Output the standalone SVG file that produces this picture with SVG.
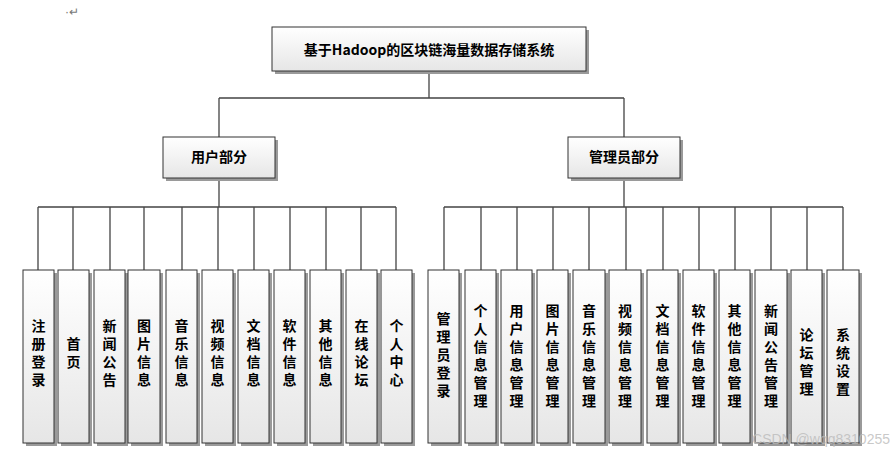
<svg xmlns="http://www.w3.org/2000/svg" width="893" height="453" viewBox="0 0 893 453">
<defs>
<linearGradient id="g" x1="0" y1="0" x2="0" y2="1"><stop offset="0" stop-color="#ffffff"/><stop offset="1" stop-color="#e6e6e6"/></linearGradient>
<style>
.b{fill:url(#g);stroke:#333;stroke-width:1}
.s{fill:#9a9a9a}
.c{stroke:#444;stroke-width:1.3;fill:none}
.t{font-family:"Noto Sans CJK SC","Liberation Serif",serif;font-weight:bold;font-size:14px;fill:#000;text-anchor:middle}
</style>
</defs>
<rect width="893" height="453" fill="#fff"/>
<text x="65" y="16" font-family="Liberation Sans,sans-serif" font-size="12" fill="#777">·↵</text>
<g id="connectors" class="c">
<path d="M429 71V98M219 98H624M219 98V137M624 98V137"/>
<path d="M219 178V207M38 207H396M38 207V270M73 207V270M110 207V270M144 207V270M182 207V270M218 207V270M254 207V270M290 207V270M326 207V270M361 207V270M396 207V270"/>
<path d="M624 178V207M444 207H843M444 207V270M481 207V270M517 207V270M553 207V270M589 207V270M626 207V270M663 207V270M699 207V270M735 207V270M771 207V270M807 207V270M843 207V270"/>
</g>
<g id="root"><rect class="s" x="275" y="30" width="314" height="44"/><rect class="b" x="272" y="27" width="314" height="44"/><text class="t" x="429" y="55" font-size="16">基于Hadoop的区块链海量数据存储系统</text></g>
<g id="user"><rect class="s" x="166" y="140" width="112" height="41"/><rect class="b" x="163" y="137" width="112" height="41"/><text class="t" x="219" y="162">用户部分</text></g>
<g id="admin"><rect class="s" x="571" y="140" width="112" height="41"/><rect class="b" x="568" y="137" width="112" height="41"/><text class="t" x="624" y="162">管理员部分</text></g>
<g id="u1"><rect class="s" x="26" y="273" width="31" height="173"/><rect class="b" x="23" y="270" width="31" height="173"/><text class="t" x="38.5"><tspan x="38.5" y="331">注</tspan><tspan x="38.5" y="349">册</tspan><tspan x="38.5" y="367">登</tspan><tspan x="38.5" y="385">录</tspan></text></g>
<g id="u2"><rect class="s" x="61" y="273" width="31" height="173"/><rect class="b" x="58" y="270" width="31" height="173"/><text class="t"><tspan x="73.5" y="349">首</tspan><tspan x="73.5" y="367">页</tspan></text></g>
<g id="u3"><rect class="s" x="97" y="273" width="31" height="173"/><rect class="b" x="94" y="270" width="31" height="173"/><text class="t"><tspan x="109.5" y="331">新</tspan><tspan x="109.5" y="349">闻</tspan><tspan x="109.5" y="367">公</tspan><tspan x="109.5" y="385">告</tspan></text></g>
<g id="u4"><rect class="s" x="131" y="273" width="32" height="173"/><rect class="b" x="128" y="270" width="32" height="173"/><text class="t"><tspan x="144" y="331">图</tspan><tspan x="144" y="349">片</tspan><tspan x="144" y="367">信</tspan><tspan x="144" y="385">息</tspan></text></g>
<g id="u5"><rect class="s" x="169" y="273" width="31" height="173"/><rect class="b" x="166" y="270" width="31" height="173"/><text class="t"><tspan x="181.5" y="331">音</tspan><tspan x="181.5" y="349">乐</tspan><tspan x="181.5" y="367">信</tspan><tspan x="181.5" y="385">息</tspan></text></g>
<g id="u6"><rect class="s" x="205" y="273" width="31" height="173"/><rect class="b" x="202" y="270" width="31" height="173"/><text class="t"><tspan x="217.5" y="331">视</tspan><tspan x="217.5" y="349">频</tspan><tspan x="217.5" y="367">信</tspan><tspan x="217.5" y="385">息</tspan></text></g>
<g id="u7"><rect class="s" x="241" y="273" width="31" height="173"/><rect class="b" x="238" y="270" width="31" height="173"/><text class="t"><tspan x="253.5" y="331">文</tspan><tspan x="253.5" y="349">档</tspan><tspan x="253.5" y="367">信</tspan><tspan x="253.5" y="385">息</tspan></text></g>
<g id="u8"><rect class="s" x="277" y="273" width="31" height="173"/><rect class="b" x="274" y="270" width="31" height="173"/><text class="t"><tspan x="289.5" y="331">软</tspan><tspan x="289.5" y="349">件</tspan><tspan x="289.5" y="367">信</tspan><tspan x="289.5" y="385">息</tspan></text></g>
<g id="u9"><rect class="s" x="313" y="273" width="31" height="173"/><rect class="b" x="310" y="270" width="31" height="173"/><text class="t"><tspan x="325.5" y="331">其</tspan><tspan x="325.5" y="349">他</tspan><tspan x="325.5" y="367">信</tspan><tspan x="325.5" y="385">息</tspan></text></g>
<g id="u10"><rect class="s" x="349" y="273" width="31" height="173"/><rect class="b" x="346" y="270" width="31" height="173"/><text class="t"><tspan x="361.5" y="331">在</tspan><tspan x="361.5" y="349">线</tspan><tspan x="361.5" y="367">论</tspan><tspan x="361.5" y="385">坛</tspan></text></g>
<g id="u11"><rect class="s" x="384" y="273" width="31" height="173"/><rect class="b" x="381" y="270" width="31" height="173"/><text class="t"><tspan x="396.5" y="331">个</tspan><tspan x="396.5" y="349">人</tspan><tspan x="396.5" y="367">中</tspan><tspan x="396.5" y="385">心</tspan></text></g>
<g id="a1"><rect class="s" x="431" y="273" width="31" height="173"/><rect class="b" x="428" y="270" width="31" height="173"/><text class="t"><tspan x="443.5" y="324">管</tspan><tspan x="443.5" y="342">理</tspan><tspan x="443.5" y="360">员</tspan><tspan x="443.5" y="378">登</tspan><tspan x="443.5" y="396">录</tspan></text></g>
<g id="a2"><rect class="s" x="468" y="273" width="31" height="173"/><rect class="b" x="465" y="270" width="31" height="173"/><text class="t"><tspan x="480.5" y="316">个</tspan><tspan x="480.5" y="334">人</tspan><tspan x="480.5" y="352">信</tspan><tspan x="480.5" y="370">息</tspan><tspan x="480.5" y="388">管</tspan><tspan x="480.5" y="406">理</tspan></text></g>
<g id="a3"><rect class="s" x="504" y="273" width="31" height="173"/><rect class="b" x="501" y="270" width="31" height="173"/><text class="t"><tspan x="516.5" y="316">用</tspan><tspan x="516.5" y="334">户</tspan><tspan x="516.5" y="352">信</tspan><tspan x="516.5" y="370">息</tspan><tspan x="516.5" y="388">管</tspan><tspan x="516.5" y="406">理</tspan></text></g>
<g id="a4"><rect class="s" x="540" y="273" width="31" height="173"/><rect class="b" x="537" y="270" width="31" height="173"/><text class="t"><tspan x="552.5" y="316">图</tspan><tspan x="552.5" y="334">片</tspan><tspan x="552.5" y="352">信</tspan><tspan x="552.5" y="370">息</tspan><tspan x="552.5" y="388">管</tspan><tspan x="552.5" y="406">理</tspan></text></g>
<g id="a5"><rect class="s" x="576" y="273" width="32" height="173"/><rect class="b" x="573" y="270" width="32" height="173"/><text class="t"><tspan x="589" y="316">音</tspan><tspan x="589" y="334">乐</tspan><tspan x="589" y="352">信</tspan><tspan x="589" y="370">息</tspan><tspan x="589" y="388">管</tspan><tspan x="589" y="406">理</tspan></text></g>
<g id="a6"><rect class="s" x="612" y="273" width="32" height="173"/><rect class="b" x="609" y="270" width="32" height="173"/><text class="t"><tspan x="625" y="316">视</tspan><tspan x="625" y="334">频</tspan><tspan x="625" y="352">信</tspan><tspan x="625" y="370">息</tspan><tspan x="625" y="388">管</tspan><tspan x="625" y="406">理</tspan></text></g>
<g id="a7"><rect class="s" x="650" y="273" width="31" height="173"/><rect class="b" x="647" y="270" width="31" height="173"/><text class="t"><tspan x="662.5" y="316">文</tspan><tspan x="662.5" y="334">档</tspan><tspan x="662.5" y="352">信</tspan><tspan x="662.5" y="370">息</tspan><tspan x="662.5" y="388">管</tspan><tspan x="662.5" y="406">理</tspan></text></g>
<g id="a8"><rect class="s" x="686" y="273" width="31" height="173"/><rect class="b" x="683" y="270" width="31" height="173"/><text class="t"><tspan x="698.5" y="316">软</tspan><tspan x="698.5" y="334">件</tspan><tspan x="698.5" y="352">信</tspan><tspan x="698.5" y="370">息</tspan><tspan x="698.5" y="388">管</tspan><tspan x="698.5" y="406">理</tspan></text></g>
<g id="a9"><rect class="s" x="722" y="273" width="31" height="173"/><rect class="b" x="719" y="270" width="31" height="173"/><text class="t"><tspan x="734.5" y="316">其</tspan><tspan x="734.5" y="334">他</tspan><tspan x="734.5" y="352">信</tspan><tspan x="734.5" y="370">息</tspan><tspan x="734.5" y="388">管</tspan><tspan x="734.5" y="406">理</tspan></text></g>
<g id="a10"><rect class="s" x="758" y="273" width="32" height="173"/><rect class="b" x="755" y="270" width="32" height="173"/><text class="t"><tspan x="771" y="316">新</tspan><tspan x="771" y="334">闻</tspan><tspan x="771" y="352">公</tspan><tspan x="771" y="370">告</tspan><tspan x="771" y="388">管</tspan><tspan x="771" y="406">理</tspan></text></g>
<g id="a11"><rect class="s" x="794" y="273" width="31" height="173"/><rect class="b" x="791" y="270" width="31" height="173"/><text class="t"><tspan x="806.5" y="340">论</tspan><tspan x="806.5" y="358">坛</tspan><tspan x="806.5" y="376">管</tspan><tspan x="806.5" y="394">理</tspan></text></g>
<g id="a12"><rect class="s" x="830" y="273" width="32" height="173"/><rect class="b" x="827" y="270" width="32" height="173"/><text class="t"><tspan x="843" y="340">系</tspan><tspan x="843" y="358">统</tspan><tspan x="843" y="376">设</tspan><tspan x="843" y="394">置</tspan></text></g>
<text x="890" y="444" text-anchor="end" font-family="Liberation Sans,sans-serif" font-size="14" fill="#bbb" fill-opacity="0.8">CSDN @wqq8310255</text>
</svg>
